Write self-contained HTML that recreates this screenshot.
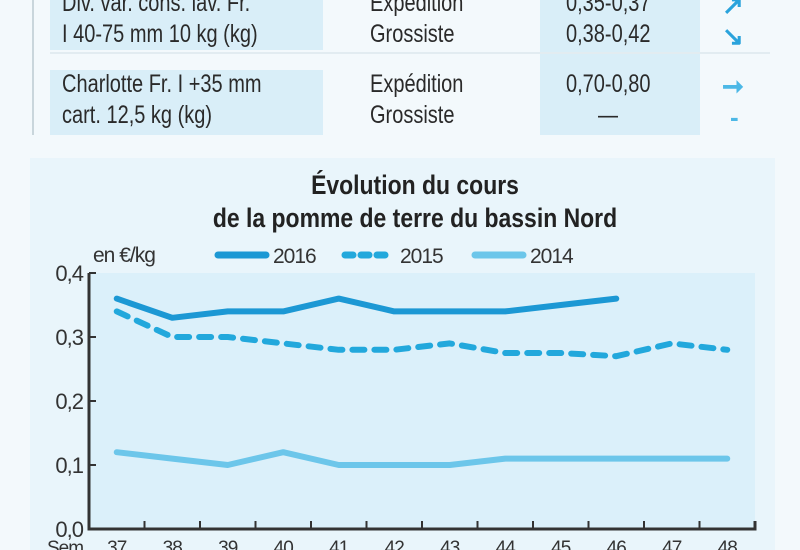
<!DOCTYPE html>
<html><head><meta charset="utf-8">
<style>
body{margin:0;width:800px;height:550px;overflow:hidden;background:#f3f9fc;font-family:"Liberation Sans",sans-serif;color:#2a2a2a;position:relative}
.a{position:absolute}
.t{font-size:25px;line-height:31px;position:absolute;white-space:nowrap;transform:scaleX(0.8);transform-origin:0 0}
svg text{letter-spacing:-1px}
</style></head><body>
<div class="a" style="left:32px;top:0;width:2px;height:135px;background:#c9d6dc"></div>
<div class="a" style="left:50px;top:0;width:273px;height:50px;background:#d9eef8"></div>
<div class="a" style="left:50px;top:70px;width:273px;height:65px;background:#d9eef8"></div>
<div class="a" style="left:540px;top:0;width:160px;height:135px;background:#d9eef8"></div>
<div class="a" style="left:50px;top:52px;width:720px;height:2px;background:#e2ecf1"></div>
<div class="t" style="left:62px;top:-12px">Div. var. cons. lav. Fr.<br>I 40-75 mm 10 kg (kg)</div>
<div class="t" style="left:370px;top:-12px">Expédition<br>Grossiste</div>
<div class="t" style="left:566px;top:-12px">0,35-0,37<br>0,38-0,42</div>
<div class="a" style="left:722px;top:-10px;font-size:26px;line-height:31px;color:#2aa3dc;font-weight:bold">↗<br>↘</div>
<div class="t" style="left:62px;top:69px">Charlotte Fr. I +35 mm<br>cart. 12,5 kg (kg)</div>
<div class="t" style="left:370px;top:69px">Expédition<br>Grossiste</div>
<div class="t" style="left:566px;top:69px">0,70-0,80<br><span style="padding-left:40px">—</span></div>
<div class="a" style="left:722px;top:71px;font-size:26px;line-height:31px;color:#4cb8e6;font-weight:bold">➞<br><span style="padding-left:8px">-</span></div>
<div class="a" style="left:30px;top:158px;width:745px;height:392px;background:#e9f5fb"></div>
<div class="a" style="left:30px;top:169px;width:770px;text-align:center;font-weight:bold;font-size:27px;line-height:33px;color:#222;transform:scaleX(0.85);transform-origin:385px 0">Évolution du cours<br>de la pomme de terre du bassin Nord</div>
<svg class="a" style="left:0;top:0" width="800" height="550">
<g id="g"></g></svg>
<script>
const weeks=["37","38","39","40","41","42","43","44","45","46","47","48"];
const s2016=[0.36,0.33,0.34,0.34,0.36,0.34,0.34,0.34,0.35,0.36];
const s2015=[0.34,0.30,0.30,0.29,0.28,0.28,0.29,0.275,0.275,0.27,0.29,0.28];
const s2014=[0.12,0.11,0.10,0.12,0.10,0.10,0.10,0.11,0.11,0.11,0.11,0.11];
const yTicks=["0,0","0,1","0,2","0,3","0,4"];
const X0=89,X1=755,Y0=529,Y1=273,YMAX=0.4;
const bw=(X1-X0)/weeks.length;
const x=i=>X0+bw*(i+0.5);
const y=v=>Y0-(v/YMAX)*(Y0-Y1);
const NS="http://www.w3.org/2000/svg",g=document.getElementById('g');
const FF='Liberation Sans, sans-serif';
function mk(t,a){const e=document.createElementNS(NS,t);for(const k in a)e.setAttribute(k,a[k]);g.appendChild(e);return e;}
const bg=mk('rect',{x:X0,y:Y1,width:X1-X0,height:Y0-Y1,fill:'#dbf0fa'});


yTicks.forEach((t,i)=>{const v=i*0.1;
const tk=mk('line',{x1:X0,x2:X0+7,y1:y(v),y2:y(v),stroke:'#333','stroke-width':2});


const tx=mk('text',{x:X0-6,y:y(v)+8,'text-anchor':'end','font-size':22,fill:'#333','font-family':FF});
tx.textContent=t;

});
for(let i=0;i<=weeks.length;i++){const tk=mk('line',{x1:X0+bw*i,x2:X0+bw*i,y1:Y0,y2:Y0-8,stroke:'#333','stroke-width':2});

}
weeks.forEach((w,i)=>{const tx=mk('text',{x:x(i),y:Y0+25,'text-anchor':'middle','font-size':19,fill:'#333','font-family':FF});
tx.textContent=w;

});
const sem=mk('text',{x:47,y:Y0+25,'font-size':19,fill:'#333','font-family':FF});
sem.textContent='Sem.';


const ax=mk('path',{d:`M${X0} ${Y1} V${Y0} H${X1} V${Y0-8}`,stroke:'#333','stroke-width':3,fill:'none'});


function line(d,col,dash,name){const p=mk('path',{d:d.map((v,i)=>(i?'L':'M')+x(i)+' '+y(v)).join(''),stroke:col,'stroke-width':6,fill:'none','stroke-linejoin':'round','stroke-linecap':'round','stroke-dasharray':dash||'none'});

}
line(s2014,'#6cc6ea','', 'line-2014');
line(s2015,'#22a8dc','12 10','line-2015');
line(s2016,'#1c98d4','','line-2016');
const un=mk('text',{x:93,y:262,'font-size':21,fill:'#333','font-family':FF});
un.textContent='en €/kg';


[['2016','#1c98d4','',218],['2015','#22a8dc','8 8',345],['2014','#6cc6ea','',475]].forEach(([n,c,d,lx])=>{
const l=mk('line',{x1:lx,x2:lx+48,y1:255,y2:255,stroke:c,'stroke-width':7,'stroke-linecap':'round','stroke-dasharray':d||'none'});


const t=mk('text',{x:lx+55,y:263,'font-size':21,fill:'#333','font-family':FF});
t.textContent=n;

});
</script>
</body></html>
